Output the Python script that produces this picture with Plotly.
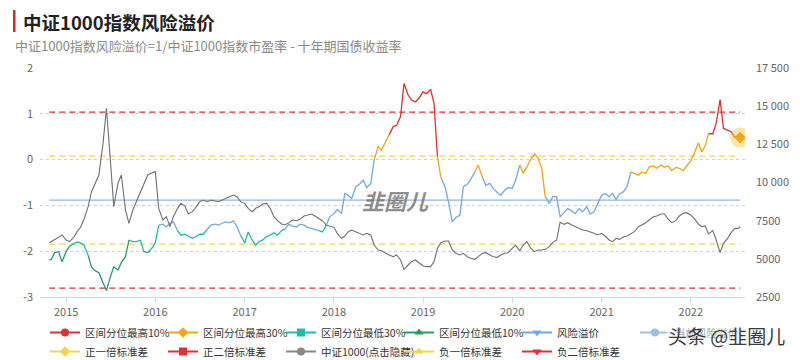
import pandas as pd
import plotly.graph_objects as go

# ---------------- data ----------------
START_DATE = "2014-10-24"
END_DATE = "2022-07-22"
# semi-monthly observation dates (1st and 15th of each month) between the two end dates
obs_dates = [pd.Timestamp(START_DATE)] + list(pd.date_range("2014-11-01", "2022-07-15", freq="SMS")) + [pd.Timestamp(END_DATE)]

premium = [
    -2.19, -2.18, -2.03, -2.01, -2.23,
    # 2015
    -2.01, -1.89, -1.83, -1.80, -1.82, -1.87, -2.09, -2.35, -2.43, -2.47, -2.69, -2.86,
    -2.56, -2.34, -2.41, -2.25, -2.12, -1.76, -1.79, -1.79, -1.76, -2.01, -2.03, -1.96,
    # 2016
    -1.82, -1.43, -1.41, -1.47, -1.39, -1.36, -1.55, -1.65, -1.63, -1.67, -1.72, -1.68,
    -1.63, -1.63, -1.52, -1.43, -1.41, -1.43, -1.39, -1.36, -1.38, -1.34, -1.47, -1.65,
    # 2017
    -1.82, -1.58, -1.76, -1.87, -1.79, -1.76, -1.68, -1.65, -1.60, -1.65, -1.55, -1.52,
    -1.41, -1.45, -1.47, -1.41, -1.43, -1.48, -1.50, -1.52, -1.55, -1.58, -1.43, -1.25,
    # 2018
    -1.18, -1.09, -1.18, -0.74, -0.78, -0.85, -0.59, -0.54, -0.45, -0.61, -0.52, -0.01,
    0.29, 0.21, 0.39, 0.54, 0.72, 0.75, 0.94, 1.66, 1.41, 1.30, 1.26, 1.34,
    # 2019
    1.48, 1.44, 1.53, 1.23, 0.06, -0.39, -0.59, -0.92, -1.36, -1.27, -1.21, -0.59,
    -0.54, -0.43, -0.27, -0.12, -0.38, -0.56, -0.52, -0.63, -0.72, -0.78, -0.67, -0.61,
    # 2020
    -0.63, -0.45, -0.12, -0.30, -0.16, -0.01, 0.12, 0.05, -0.19, -0.81, -0.96, -0.81,
    -0.81, -1.25, -1.14, -1.07, -1.12, -1.18, -1.07, -1.14, -1.03, -1.19, -1.14, -0.96,
    # 2021
    -0.78, -0.74, -0.81, -0.74, -0.87, -0.75, -0.70, -0.59, -0.27, -0.30, -0.34, -0.27,
    -0.30, -0.16, -0.14, -0.19, -0.12, -0.17, -0.14, -0.24, -0.17, -0.19, -0.24, -0.14,
    # 2022
    -0.03, 0.13, 0.37, 0.17, 0.30, 0.57, 0.56, 0.79, 1.31, 0.68, 0.64, 0.61, 0.48, 0.48,
    0.48,
]

csi1000 = [
    6059, 6125, 6277, 6408, 6561,
    # 2015
    6234, 6125, 6408, 6780, 7063, 7587, 8417, 9400, 9945, 10491, 12565, 14858,
    11474, 8417, 9945, 10491, 8200, 7325, 8199, 8744, 9290, 9836, 10491, 10600,
    # 2016
    10710, 8308, 7544, 7762, 7107, 7762, 8308, 8635, 8461, 7937, 8090, 8374,
    8744, 8854, 8744, 8854, 8810, 8744, 8854, 8963, 9116, 9181, 9072, 8744,
    # 2017
    8635, 8308, 8090, 8308, 8417, 8592, 8635, 8308, 7762, 7500, 7281, 7216,
    7369, 7544, 7500, 7587, 7806, 7871, 7937, 7806, 7653, 7500, 7216, 7151,
    # 2018
    7063, 6670, 6343, 6495, 6780, 6889, 6780, 6670, 6561, 6670, 6561, 5906,
    5579, 5535, 5361, 5251, 5142, 5251, 4924, 4312, 4596, 4814, 4924, 4749,
    # 2019
    4531, 4487, 4487, 4814, 5688, 6059, 6168, 6168, 5579, 5361, 5251, 5361,
    5142, 5033, 4967, 5142, 5361, 5404, 5251, 5142, 5098, 5251, 5361, 5404,
    # 2020
    5688, 5884, 5535, 5906, 6125, 5732, 5470, 5579, 5579, 5622, 5797, 6081,
    6234, 7390, 7260, 7369, 7216, 7107, 6998, 6889, 6845, 6780, 6670, 6561,
    # 2021
    6670, 6496, 6234, 6125, 6343, 6277, 6452, 6496, 6627, 6780, 7107, 7216,
    7369, 7544, 7762, 7806, 7937, 7937, 7587, 7369, 7500, 7806, 7981, 8024,
    # 2022
    7871, 7653, 7281, 7107, 7151, 6627, 6845, 6234, 5404, 6015, 6343, 6714, 6998, 6998,
    7107,
]

# percentile band edges of the premium (top 10%, top 30%, bottom 30%, bottom 10%)
TOP10_EDGE = 0.50
TOP30_EDGE = -0.35
BOTTOM30_EDGE = -1.53
BOTTOM10_EDGE = -2.00

# mean and standard-deviation levels of the premium
PREMIUM_MEAN = -0.885
PLUS_1SD = 0.075
PLUS_2SD = 1.035
MINUS_1SD = -1.845
MINUS_2SD = -2.805

left_ticks = [-3, -2, -1, 0, 1, 2]
left_ticktext = ["-3", "-2", "-1", "0", "1", "2"]
right_ticks = [2500, 5000, 7500, 10000, 12500, 15000, 17500]
right_ticktext = ["2500", "5000", "7500", "10 000", "12 500", "15 000", "17 500"]

legend_names = ["区间分位最高10%", "区间分位最高30%", "区间分位最低30%", "区间分位最低10%",
                "风险溢价", "当前风险溢价", "正一倍标准差", "正二倍标准差", "中证1000(点击隐藏)",
                "负一倍标准差", "负二倍标准差"]

# ---------------- styles ----------------
RED = "#e03131"
ORANGE = "#f2a516"
TEAL = "#1fbcae"
GREEN = "#2a9a68"
BLUE = "#74a9dc"
YELLOW = "#f3d44e"
GRAY = "#6f6f6f"
ZONE_COLOR = {"r": RED, "o": ORANGE, "b": BLUE, "t": TEAL, "g": GREEN}
FONT = "Noto Sans CJK SC"


def zone_of(v):
    if v > TOP10_EDGE:
        return "r"
    if v > TOP30_EDGE:
        return "o"
    if v > BOTTOM30_EDGE:
        return "b"
    if v > BOTTOM10_EDGE:
        return "t"
    return "g"


fig = go.Figure()

# level lines
span = [obs_dates[0], obs_dates[-1]]
for val, col, dash, w in [
    (PLUS_2SD, RED, "6px,4px", 1.2),
    (PLUS_1SD, YELLOW, "6px,4px", 1.2),
    (PREMIUM_MEAN, "#8db8e3", "solid", 1.3),
    (MINUS_1SD, YELLOW, "6px,4px", 1.2),
    (MINUS_2SD, RED, "6px,4px", 1.2),
]:
    fig.add_trace(go.Scatter(x=span, y=[val, val], mode="lines",
                             line=dict(color=col, width=w, dash=dash),
                             showlegend=False, hoverinfo="skip"))

# CSI 1000 index on right axis
fig.add_trace(go.Scatter(x=obs_dates, y=csi1000, mode="lines", yaxis="y2",
                         line=dict(color=GRAY, width=1.1), showlegend=False))

# risk premium, coloured by percentile band
zones = [zone_of(v) for v in premium]
n = len(premium)
i = 0
while i < n:
    j = i
    while j + 1 < n and zones[j + 1] == zones[i]:
        j += 1
    stop = min(j + 1, n - 1)
    fig.add_trace(go.Scatter(x=obs_dates[i:stop + 1], y=premium[i:stop + 1], mode="lines",
                             line=dict(color=ZONE_COLOR[zones[i]], width=1.3),
                             showlegend=False))
    i = j + 1

# latest point highlight
fig.add_trace(go.Scatter(x=[obs_dates[-1]], y=[premium[-1]], mode="markers",
                         marker=dict(size=20, color="rgba(245,200,60,0.45)"),
                         showlegend=False, hoverinfo="skip"))
fig.add_trace(go.Scatter(x=[obs_dates[-1]], y=[premium[-1]], mode="markers",
                         marker=dict(size=9, color=ORANGE, symbol="diamond"),
                         showlegend=False))

# legend entries
legend_style = [
    (RED, "circle"), (ORANGE, "diamond"), (TEAL, "square"), (GREEN, "triangle-up"),
    (BLUE, "triangle-down"), ("#9cbfe6", "circle"), (YELLOW, "diamond"), (RED, "square"),
    ("#888888", "circle"), (YELLOW, "triangle-up"), (RED, "triangle-down"),
]
for name, (col, sym) in zip(legend_names, legend_style):
    fig.add_trace(go.Scatter(x=[None], y=[None], mode="lines+markers", name=name,
                             line=dict(color=col, width=2),
                             marker=dict(color=col, symbol=sym, size=8)))

PL, PR, PT, PB = 40, 55, 68, 63
PW, PH = 800 - PL - PR, 360 - PT - PB


def px_x(px):
    return (px - PL) / PW


def px_y(py):
    return (360 - PB - py) / PH


fig.update_layout(
    width=800, height=360,
    margin=dict(l=PL, r=PR, t=PT, b=PB, autoexpand=False),
    paper_bgcolor="white", plot_bgcolor="white",
    font=dict(family=FONT, size=11, color="#555"),
    xaxis=dict(type="date", range=["2014-09-16", "2022-08-11"],
               dtick="M12", tickformat="%Y", tick0="2015-01-01",
               showgrid=False, zeroline=False,
               showline=True, linecolor="#d3d9e2", linewidth=1,
               ticks="outside", ticklen=5, tickcolor="#d3d9e2",
               tickfont=dict(size=11, color="#666")),
    yaxis=dict(range=[-3, 2], tickvals=left_ticks, ticktext=left_ticktext,
               showgrid=True, gridcolor="#cfcfcf", griddash="dot", gridwidth=1,
               zeroline=False, showline=False, ticks="",
               ticklabelstandoff=6, tickfont=dict(size=11, color="#666")),
    yaxis2=dict(range=[2500, 17500], tickvals=right_ticks, ticktext=right_ticktext,
                overlaying="y", side="right", showgrid=False, zeroline=False,
                showline=False, ticks="", ticklabelstandoff=10,
                tickfont=dict(size=11, color="#666")),
    legend=dict(orientation="h", x=px_x(45), xanchor="left", y=px_y(318), yanchor="top",
                entrywidth=73, entrywidthmode="pixels",
                font=dict(size=10.5, color="#333", family=FONT),
                bgcolor="rgba(0,0,0,0)", itemclick=False),
    shapes=[dict(type="rect", xref="paper", yref="paper",
                 x0=px_x(13), x1=px_x(15.5), y0=px_y(32), y1=px_y(10),
                 fillcolor="#e0242b", line=dict(width=0))],
    annotations=[
        dict(text="<b>中证1000指数风险溢价</b>", xref="paper", yref="paper",
             x=px_x(21), y=px_y(22), xanchor="left", yanchor="middle", showarrow=False,
             font=dict(size=18.5, color="#222", family=FONT)),
        dict(text="中证1000指数风险溢价=1/中证1000指数市盈率 - 十年期国债收益率",
             xref="paper", yref="paper", x=px_x(13), y=px_y(45),
             xanchor="left", yanchor="middle", showarrow=False,
             font=dict(size=13, color="#8a8a8a", family=FONT)),
        dict(text="<b><i>韭圈儿</i></b>", xref="paper", yref="paper",
             x=px_x(396), y=px_y(200), xanchor="center", yanchor="middle", showarrow=False,
             font=dict(size=22, color="rgba(105,105,105,0.75)", family=FONT)),
        dict(text="头条 @韭圈儿", xref="paper", yref="paper",
             x=px_x(726), y=px_y(335), xanchor="center", yanchor="middle", showarrow=False,
             bgcolor="rgba(255,255,255,0.55)",
             font=dict(size=19, color="#3a3a3a", family=FONT)),
    ],
)

fig.write_html("out.html", config={"displayModeBar": False},
               post_script="document.body.style.margin='0';document.body.style.overflow='hidden';")
